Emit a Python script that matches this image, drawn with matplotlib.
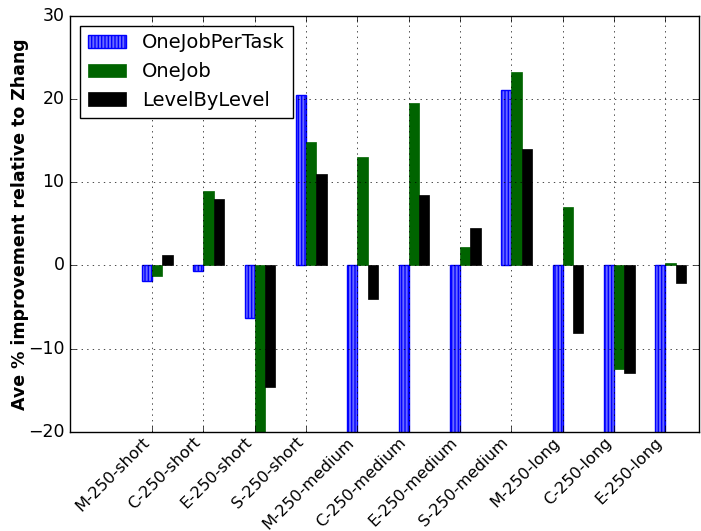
import matplotlib
matplotlib.use('Agg')
import matplotlib.pyplot as plt
import numpy as np

plt.style.use('classic')

categories = ['M-250-short', 'C-250-short', 'E-250-short', 'S-250-short',
              'M-250-medium', 'C-250-medium', 'E-250-medium', 'S-250-medium',
              'M-250-long', 'C-250-long', 'E-250-long']

one_job_per_task = [-1.85, -0.7, -6.3, 20.5, -25.0, -25.0, -25.0, 21.15, -25.0, -25.0, -25.0]
one_job = [-1.3, 9.0, -22.0, 14.8, 13.0, 19.5, 2.2, 23.2, 7.0, -12.4, 0.25]
level_by_level = [1.25, 8.0, -14.6, 11.0, -4.05, 8.45, 4.5, 14.0, -8.1, -13.0, -2.1]

ind = np.arange(len(categories))
width = 0.2

fig = plt.figure(figsize=(7.01, 5.31), dpi=100)
ax = fig.add_axes([0.0999, 0.187, 0.897, 0.783])

ax.bar(ind - width, one_job_per_task, width, align='edge', color='#6a6aff',
       edgecolor='blue', hatch='|||||', linewidth=1, label='OneJobPerTask')
ax.bar(ind, one_job, width, align='edge', color='darkgreen',
       edgecolor='darkgreen', linewidth=0.5, label='OneJob')
ax.bar(ind + width, level_by_level, width, align='edge', color='black',
       edgecolor='black', linewidth=0.5, label='LevelByLevel')

ax.set_xlim(-1.6, 10.65)
ax.set_ylim(-20, 30)
ax.set_xticks(ind)
ax.set_xticklabels(categories, rotation=45, ha='right', fontsize=11.6)
ax.tick_params(axis='x', pad=2)
ax.tick_params(axis='y', labelsize=12.5)
ax.set_ylabel('Ave % improvement relative to Zhang', fontsize=12.5,
              fontweight='bold', labelpad=-0.5)
ax.grid(True)
ax.set_axisbelow(False)

ax.legend(loc='upper left', fontsize=14)

fig.savefig('out.png', dpi=100, facecolor='white')
